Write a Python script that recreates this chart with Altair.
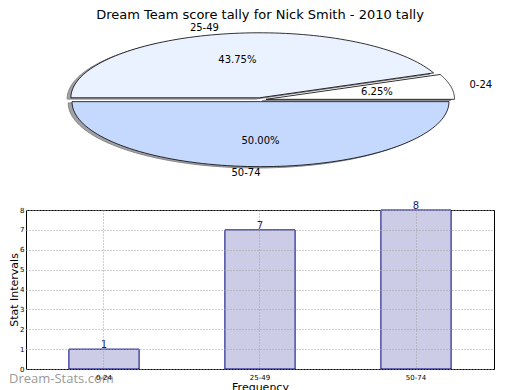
import altair as alt
import pandas as pd

# ---------------- data ----------------
CATS = ["0-24", "25-49", "50-74"]
COUNTS = [1, 7, 8]
PIE_COLORS = ["#ffffff", "#ebf2ff", "#c5d9ff"]
TITLE = "Dream Team score tally for Nick Smith - 2010 tally"
X_TITLE = "Frequency"
Y_TITLE = "Stat Intervals"
Y_TICKS = [0, 1, 2, 3, 4, 5, 6, 7, 8]
WATERMARK = "Dream-Stats.com"

df = pd.DataFrame({"cat": CATS, "value": COUNTS, "ord": list(range(len(CATS)))})
wm_df = pd.DataFrame({"t": [WATERMARK]})

# ---------------- layout / style ----------------
FONT = "DejaVu Sans"
EXPLODE = 0.03
SHADOW = 0.02
N = 90
PW = 468          # plot width (both panels)
PH = 156          # pie panel height
BH = 159          # bar panel height
CX, CY = 259.5, 98.7   # pie centre on the page
RX, RY = 188.5, 65.0   # pie radii (flattened)
PLOT_LEFT = 25
PIE_TOP = 24

x_dom = [(PLOT_LEFT - CX) / RX, (PLOT_LEFT + PW - CX) / RX]
y_dom = [(CY - (PIE_TOP + PH)) / RY, (CY - PIE_TOP) / RY]
xs = alt.Scale(domain=x_dom, nice=False, zero=False)
ys = alt.Scale(domain=y_dom, nice=False, zero=False)

# ---------------- pie ----------------
base = (
    alt.Chart(df)
    .transform_joinaggregate(total="sum(value)")
    .transform_window(cum="sum(value)", sort=[alt.SortField("ord")], frame=[None, 0])
    .transform_calculate(a0="2*PI*(datum.cum - datum.value)/datum.total")
    .transform_calculate(a1="2*PI*datum.cum/datum.total")
    .transform_calculate(mid="(datum.a0 + datum.a1)/2")
    .transform_calculate(ox=f"{EXPLODE}*cos(datum.mid)")
    .transform_calculate(oy=f"{EXPLODE}*sin(datum.mid)")
)

outline = (
    base.transform_calculate(idx=f"sequence(-1, {N + 2})")
    .transform_flatten(["idx"])
    .transform_calculate(t=f"clamp(datum.idx, 0, {N})/{N}")
    .transform_calculate(ang="datum.a0 + (datum.a1 - datum.a0)*datum.t")
    .transform_calculate(onarc=f"(datum.idx >= 0 && datum.idx <= {N}) ? 1 : 0")
    .transform_calculate(px="datum.ox + datum.onarc*cos(datum.ang)")
    .transform_calculate(py="datum.oy + datum.onarc*sin(datum.ang)")
)

shadow = (
    outline.transform_calculate(sx=f"datum.px - {SHADOW}")
    .transform_calculate(sy=f"datum.py - {SHADOW}")
    .mark_line(stroke="#85858a", strokeWidth=1)
    .encode(
        x=alt.X("sx:Q", scale=xs, axis=None),
        y=alt.Y("sy:Q", scale=ys, axis=None),
        order=alt.Order("idx:Q"),
        detail="cat:N",
        fill=alt.value("#a2a2a6"),
    )
)

slices = outline.mark_line(stroke="black", strokeWidth=0.8).encode(
    x=alt.X("px:Q", scale=xs, axis=None),
    y=alt.Y("py:Q", scale=ys, axis=None),
    order=alt.Order("idx:Q"),
    detail="cat:N",
    fill=alt.Fill("cat:N", scale=alt.Scale(domain=CATS, range=PIE_COLORS), legend=None),
)

lab = (
    base.transform_calculate(lx="datum.ox + 1.1*cos(datum.mid)")
    .transform_calculate(ly="datum.oy + 1.1*sin(datum.mid)")
    .transform_calculate(qx="datum.ox + 0.6*cos(datum.mid)")
    .transform_calculate(qy="datum.oy + 0.6*sin(datum.mid)")
    .transform_calculate(pct="format(100*datum.value/datum.total, '.2f') + '%'")
    .transform_calculate(side="cos(datum.mid) < 0 ? 'r' : 'l'")
)

lab_r = lab.transform_filter("datum.side == 'r'").mark_text(
    align="right", baseline="middle", fontSize=10, font=FONT, color="black"
).encode(x=alt.X("lx:Q", scale=xs, axis=None), y=alt.Y("ly:Q", scale=ys, axis=None), text="cat:N")

lab_l = lab.transform_filter("datum.side == 'l'").mark_text(
    align="left", baseline="middle", fontSize=10, font=FONT, color="black"
).encode(x=alt.X("lx:Q", scale=xs, axis=None), y=alt.Y("ly:Q", scale=ys, axis=None), text="cat:N")

pcts = lab.mark_text(
    align="center", baseline="middle", fontSize=10, font=FONT, color="black"
).encode(x=alt.X("qx:Q", scale=xs, axis=None), y=alt.Y("qy:Q", scale=ys, axis=None), text="pct:N")

pie = alt.layer(shadow, slices, lab_r, lab_l, pcts).properties(
    width=PW,
    height=PH,
    title=alt.TitleParams(TITLE, fontSize=13, font=FONT, fontWeight="normal",
                          anchor="middle", offset=1, color="black"),
)

# ---------------- bars ----------------
xb = alt.X(
    "cat:N",
    sort=CATS,
    scale=alt.Scale(paddingInner=0.55, paddingOuter=0.275),
    axis=alt.Axis(
        title=X_TITLE, labelAngle=0, labelFontSize=7, labelPadding=4, ticks=False,
        domain=False, grid=True, gridDash=[1, 2], gridColor="#a0a0a0", bandPosition=0.5,
        titleFontSize=11, titleFontWeight="normal", titlePadding=1, zindex=1,
        labelColor="black", titleColor="black", labelFont=FONT, titleFont=FONT,
    ),
)
yb = alt.Y(
    "value:Q",
    scale=alt.Scale(domain=[0, 8], nice=False),
    axis=alt.Axis(
        values=Y_TICKS, title=Y_TITLE, labelFontSize=7, labelPadding=2, ticks=False,
        domain=False, grid=True, gridDash=[1, 2], gridColor="#a0a0a0",
        labelOverlap=False, titleFontSize=11, titleFontWeight="normal", titlePadding=0,
        zindex=1, labelColor="black", titleColor="black", labelFont=FONT, titleFont=FONT,
    ),
)

bars = alt.Chart(df).mark_bar(fill="#ccccE6", stroke="#00007a", strokeWidth=1).encode(x=xb, y=yb)
bar_text = alt.Chart(df).mark_text(
    baseline="bottom", fontSize=10, font=FONT, color="#1a1a80", dy=1
).encode(x=xb, y=yb, text="value:Q")
wm = alt.Chart(wm_df).mark_text(
    align="left", baseline="middle", fontSize=13, font="Open Sans", color="#9a9a9a"
).encode(x=alt.value(-17), y=alt.value(BH + 10), text="t:N")

bar = alt.layer(bars, bar_text, wm).properties(
    width=PW, height=BH, view=alt.ViewBackground(stroke="black", strokeWidth=1)
)

chart = (
    alt.vconcat(pie, bar, spacing=18)
    .properties(padding=0)
    .configure(font=FONT)
    .configure_view(stroke="transparent")
)

chart.save("out.html", embed_options={"renderer": "svg", "actions": False})
